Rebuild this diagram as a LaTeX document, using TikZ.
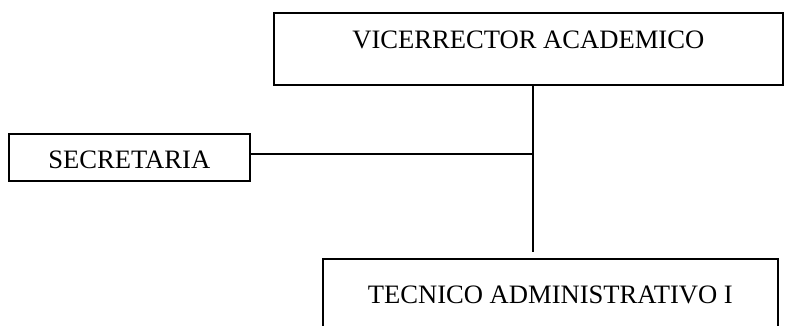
\documentclass[tikz,border=0pt]{standalone}
\usepackage{fontspec}
\setmainfont{Liberation Serif}
\begin{document}
\begin{tikzpicture}[x=1pt,y=-1pt,
  orgbox/.style={draw,line width=1.6pt,rectangle,inner sep=0pt,
    font=\fontsize{26.6}{32}\selectfont},
  link/.style={line width=1.5pt}]
\clip (0,0) rectangle (790,325);
\fill[white] (0,0) rectangle (790,325);
\node[orgbox,anchor=north west,minimum width=509pt,text height=36pt,text depth=36pt] (vr) at (273,12) {VICERRECTOR ACADEMICO};
\node[orgbox,anchor=north west,minimum width=241pt,text height=35pt,text depth=12pt] (sec) at (8,133) {SECRETARIA};
\node[orgbox,anchor=north west,minimum width=455pt,text height=45pt,text depth=37pt] (tc) at (322,258) {TECNICO ADMINISTRATIVO I};
\coordinate (j) at (533,154);
\coordinate (e) at (533,252);
\draw[link] (j |- vr.south) -- (e);
\draw[link] (sec.east |- j) -- (j);
\end{tikzpicture}
\end{document}
